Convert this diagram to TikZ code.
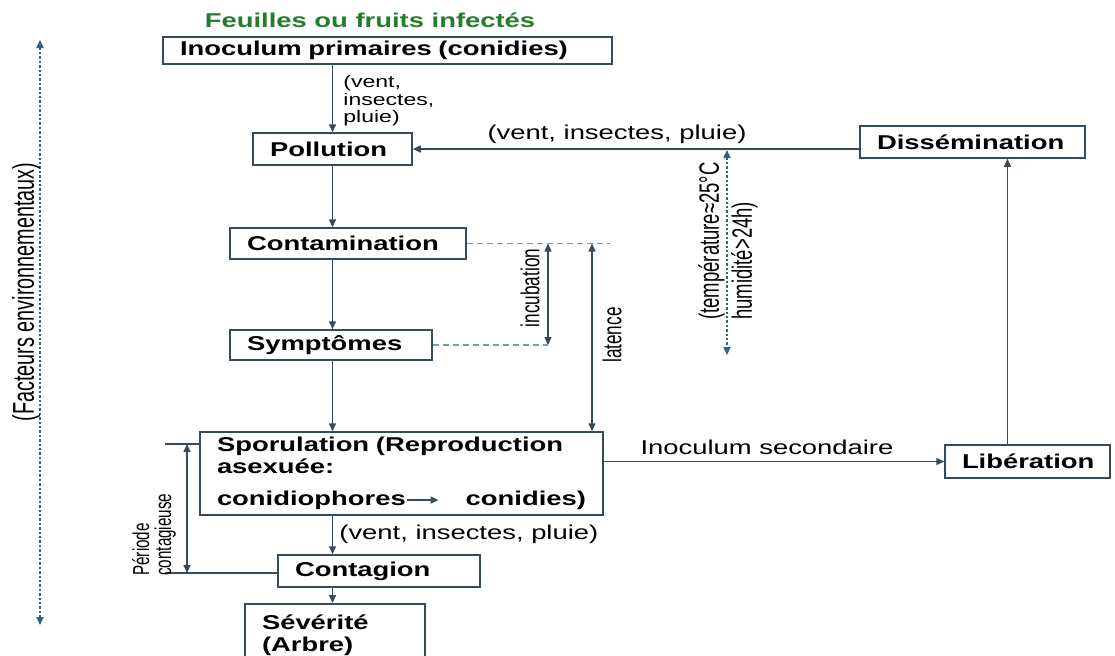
\documentclass[tikz,border=0pt]{standalone}
\usepackage{fontspec}
\setmainfont{Liberation Sans}
\newfontfamily\widefont[FakeStretch=1.37]{Liberation Sans}
\newfontfamily\tallfont[FakeStretch=0.66]{Liberation Sans}
\usetikzlibrary{arrows.meta,calc}
\definecolor{linec}{RGB}{55,75,90}
\definecolor{dotc}{RGB}{45,100,130}
\definecolor{dashc}{RGB}{110,160,190}
\definecolor{titlec}{RGB}{35,125,45}
\tikzset{
  box/.style={draw=linec, line width=0.75pt, align=left, inner xsep=8.5pt, inner ysep=0pt,
    font=\widefont\fontsize{10}{11}\selectfont\bfseries},
  lab/.style={font=\widefont\fontsize{10}{11}\selectfont, inner sep=1pt},
  side/.style={font=\tallfont\fontsize{13}{15}\selectfont, rotate=90, inner sep=1pt},
  arr/.style={draw=linec, line width=0.75pt, -{Triangle[length=4pt,width=3.5pt]}},
  both/.style={draw=linec, line width=0.75pt, {Triangle[length=4pt,width=3.5pt]}-{Triangle[length=4pt,width=3.5pt]}},
  guide/.style={draw=dashc, line width=0.75pt, dash pattern=on 3pt off 2pt},
  envline/.style={draw=dotc, line width=0.8pt, dash pattern=on 1.2pt off 1pt,
    {Triangle[length=4pt,width=3.5pt]}-{Triangle[length=4pt,width=3.5pt]}},
}
\begin{document}
\begin{tikzpicture}[x=0.5pt,y=-0.5pt]
\useasboundingbox[fill=white] (0,0) rectangle (1115,655);
% boites
\node[font=\widefont\fontsize{10}{11}\selectfont\bfseries, text=titlec] (title) at (370,20) {Feuilles ou fruits infectés};
\node[box, text width=207.5pt, minimum height=13.5pt] (inoc) at (387.5,50.5) {Inoculum primaires (conidies)};
\node[box, text width=62.5pt, minimum height=16pt] (poll) at (332.5,149) {Pollution};
\node[box, text width=95.5pt, minimum height=16pt] (diss) at (972.5,142) {Dissémination};
\node[box, text width=101pt, minimum height=15.5pt] (conta) at (348,243.5) {Contamination};
\node[box, text width=84pt, minimum height=15pt] (sympt) at (331,345) {Symptômes};
\node[box, text width=184.5pt, minimum height=41.5pt] (sporu) at (401.5,473.5)
  {Sporulation (Reproduction\\asexuée:\\[5pt]
   \hbox to 184.5pt{conidiophores\tikz[baseline=-2.8pt]\draw[arr] (0,0) -- (16pt,0);\hfil conidies)}};
\node[box, text width=65.5pt, minimum height=16.5pt] (lib) at (1027.5,461.5) {Libération};
\node[box, text width=84pt, minimum height=16pt] (contag) at (379,571) {Contagion};
\node[box, text width=73pt, minimum height=31pt, anchor=north] (sev) at (335,603) {Sévérité\\(Arbre)};
% fleches principales
\draw[arr] (inoc.south -| poll.north) -- (poll.north);
\node[lab, font=\widefont\fontsize{8.4}{8.8}\selectfont, align=left, anchor=north west] (ventA) at (341,73) {(vent,\\insectes,\\pluie)};
\draw[arr] (diss.west |- poll.east) -- (poll.east);
\node[lab, anchor=south] (ventB) at (617,146) {(vent, insectes, pluie)};
\draw[arr] (poll.south) -- (poll.south |- conta.north);
\draw[arr] (poll.south |- conta.south) -- (poll.south |- sympt.north);
\draw[arr] (poll.south |- sympt.south) -- (poll.south |- sporu.north);
\draw[arr] (sporu.east |- lib.west) -- (lib.west);
\node[lab, anchor=south] (secund) at (767,457) {Inoculum secondaire};
\draw[arr] ([xshift=-10pt]lib.north) -- ([xshift=-10pt]lib.north |- diss.south);
\draw[arr] (poll.south |- sporu.south) -- (poll.south |- contag.north);
\node[lab, anchor=west] (ventC) at (337,534) {(vent, insectes, pluie)};
\draw[arr] (poll.south |- contag.south) -- (poll.south |- sev.north);
% conditions
\coordinate (tTop) at (727,150);
\coordinate (tBot) at (727,355);
\draw[envline] (tTop) -- (tBot);
\node[side, font=\tallfont\fontsize{14}{16.5}\selectfont, align=left, anchor=west] (temp) at (728,322) {(température≈25°C\\humidité>24h)};
% incubation et latence
\coordinate (incTop) at (548,243.5);
\coordinate (incBot) at (548,345);
\coordinate (latTop) at (592,243.5);
\draw[guide] (conta.east) -- (610,243.5);
\draw[guide] (sympt.east) -- (incBot);
\draw[both] (incTop) -- (incBot);
\node[side] (incub) at (530,288) {incubation};
\draw[both] (latTop) -- (latTop |- sporu.north);
\node[side] (laten) at (612,335) {latence};
% periode contagieuse
\coordinate (perTop) at (187,444);
\coordinate (perBot) at (187,573);
\draw[linec, line width=0.75pt] (165,444) -- (sporu.west |- perTop);
\draw[linec, line width=0.75pt] (contag.west |- perBot) -- (165,573);
\draw[both] (perTop) -- (perBot);
\node[side, font=\tallfont\fontsize{11.5}{11}\selectfont, align=left, anchor=west] (perio) at (154,578) {Période\\contagieuse};
% facteurs
\coordinate (envTop) at (40,40);
\coordinate (envBot) at (40,625);
\draw[envline] (envTop) -- (envBot);
\node[side, font=\tallfont\fontsize{15}{17}\selectfont] (envir) at (26,292) {(Facteurs environnementaux)};
\end{tikzpicture}
\end{document}
